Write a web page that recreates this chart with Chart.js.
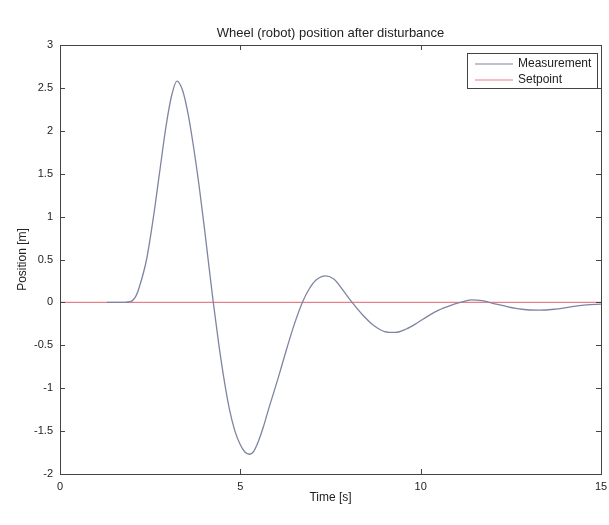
<!DOCTYPE html>
<html>
<head>
<meta charset="utf-8">
<script src="https://cdn.jsdelivr.net/npm/chart.js@4"></script>
<style>
  body { margin: 0; background: #ffffff; }
  #wrap { width: 609px; height: 525px; }
</style>
</head>
<body>
<div id="wrap"><canvas id="grafica" width="609" height="525"></canvas></div>
<script>
// Values
const timeS = [1.3, 1.6, 1.95, 2.1, 2.2, 2.4, 2.6, 2.75, 2.95, 3.1, 3.24, 3.4, 3.55, 3.7, 3.85, 4.0, 4.13, 4.25, 4.4, 4.55, 4.7, 4.85, 5.0, 5.12, 5.25, 5.38, 5.5, 5.64, 5.8, 6.05, 6.3, 6.5, 6.72, 6.9, 7.1, 7.37, 7.6, 7.85, 8.1, 8.4, 8.7, 9.0, 9.3, 9.6, 9.9, 10.2, 10.5, 10.8, 11.1, 11.4, 11.7, 12.0, 12.4, 12.8, 13.27, 13.7, 14.2, 14.6, 15];
const positionM = [0, 0, 0.01, 0.07, 0.18, 0.5, 1.02, 1.48, 2.08, 2.42, 2.58, 2.47, 2.2, 1.82, 1.38, 0.88, 0.42, 0, -0.48, -0.9, -1.25, -1.5, -1.66, -1.74, -1.77, -1.73, -1.62, -1.45, -1.22, -0.88, -0.52, -0.25, 0, 0.15, 0.26, 0.31, 0.27, 0.14, 0, -0.15, -0.27, -0.34, -0.35, -0.31, -0.24, -0.16, -0.09, -0.04, 0, 0.03, 0.02, -0.01, -0.05, -0.08, -0.09, -0.08, -0.05, -0.03, -0.02];
const setpointTimeS = [0, 15];
const setpointM = [0, 0];

const xTickValues = [0, 5, 10, 15];
const yTickValues = [-2, -1.5, -1, -0.5, 0, 0.5, 1, 1.5, 2, 2.5, 3];
const seriesNames = ["Measurement", "Setpoint"];
const chartTitle = "Wheel (robot) position after disturbance";

const measureColor = "#7f84a0";
const setpointColor = "#e8808a";
const frameColor = "#444444";
const textColor = "#222222";
const fontFamily = "'Liberation Sans', Arial, sans-serif";

// MATLAB-like box, inward ticks, title over the axes and legend
const matlabFrame = {
    id: "matlabFrame",
    afterDatasetsDraw(chart) {
        const ctx = chart.ctx;
        const area = chart.chartArea;
        const xs = chart.scales.x;
        const ys = chart.scales.y;
        ctx.save();
        ctx.strokeStyle = frameColor;
        ctx.lineWidth = 1;
        ctx.strokeRect(area.left + 0.5, area.top + 0.5, area.right - area.left, area.bottom - area.top);

        const tl = 5;
        ctx.beginPath();
        xTickValues.forEach(v => {
            const px = Math.round(xs.getPixelForValue(v)) + 0.5;
            ctx.moveTo(px, area.bottom);
            ctx.lineTo(px, area.bottom - tl);
            ctx.moveTo(px, area.top);
            ctx.lineTo(px, area.top + tl);
        });
        yTickValues.forEach(v => {
            const py = Math.round(ys.getPixelForValue(v)) + 0.5;
            ctx.moveTo(area.left, py);
            ctx.lineTo(area.left + tl, py);
            ctx.moveTo(area.right, py);
            ctx.lineTo(area.right - tl, py);
        });
        ctx.stroke();

        // title, centred over the axes
        ctx.fillStyle = textColor;
        ctx.font = "13px " + fontFamily;
        ctx.textAlign = "center";
        ctx.textBaseline = "middle";
        ctx.fillText(chartTitle, (area.left + area.right) / 2, 33);

        // legend box
        const bx = 467, by = 53, bw = 130, bh = 35;
        ctx.fillStyle = "#ffffff";
        ctx.fillRect(bx, by, bw, bh);
        ctx.strokeStyle = frameColor;
        ctx.strokeRect(bx + 0.5, by + 0.5, bw, bh);
        const colors = [measureColor, setpointColor];
        ctx.font = "12px " + fontFamily;
        ctx.textAlign = "left";
        seriesNames.forEach((name, i) => {
            const y = by + 11 + i * 16;
            ctx.strokeStyle = colors[i];
            ctx.lineWidth = 1.2;
            ctx.beginPath();
            ctx.moveTo(bx + 8, y);
            ctx.lineTo(bx + 46, y);
            ctx.stroke();
            ctx.fillStyle = textColor;
            ctx.fillText(name, bx + 51, y);
        });
        ctx.restore();
    }
};

const grafica = document.getElementById("grafica");
const chart = new Chart(grafica, {
    type: "line",
    data: {
        datasets: [
            {
                label: seriesNames[0],
                data: timeS.map((t, i) => ({ x: t, y: positionM[i] })),
                borderColor: measureColor,
                borderWidth: 1.3,
                pointRadius: 0,
                cubicInterpolationMode: "monotone",
                fill: false
            },
            {
                label: seriesNames[1],
                data: setpointTimeS.map((t, i) => ({ x: t, y: setpointM[i] })),
                borderColor: setpointColor,
                borderWidth: 1.2,
                pointRadius: 0,
                fill: false
            }
        ]
    },
    options: {
        responsive: false,
        animation: false,
        layout: { padding: { left: 0, right: 8, top: 45, bottom: 0 } },
        plugins: {
            legend: { display: false },
            tooltip: { enabled: false },
            title: { display: false }
        },
        scales: {
            x: {
                type: "linear",
                min: 0,
                max: 15,
                grid: { display: false, drawTicks: false },
                border: { display: false },
                afterBuildTicks: s => { s.ticks = xTickValues.map(v => ({ value: v })); },
                afterFit: s => { s.height = 51; s.paddingLeft = 0; s.paddingRight = 0; },
                ticks: {
                    color: textColor,
                    padding: 6,
                    maxRotation: 0,
                    callback: v => String(v),
                    font: { family: fontFamily, size: 11 }
                },
                title: {
                    display: true,
                    text: "Time [s]",
                    color: textColor,
                    font: { family: fontFamily, size: 12 },
                    padding: { top: 0, bottom: 20 }
                }
            },
            y: {
                min: -2,
                max: 3,
                grid: { display: false, drawTicks: false },
                border: { display: false },
                afterBuildTicks: s => { s.ticks = yTickValues.map(v => ({ value: v })); },
                afterFit: s => { s.width = 60; },
                ticks: {
                    color: textColor,
                    padding: 7,
                    callback: v => String(v),
                    font: { family: fontFamily, size: 11 }
                },
                title: {
                    display: true,
                    text: "Position [m]",
                    color: textColor,
                    font: { family: fontFamily, size: 12 },
                    padding: { top: 15, bottom: 0 }
                }
            }
        }
    },
    plugins: [matlabFrame]
});
</script>
</body>
</html>
